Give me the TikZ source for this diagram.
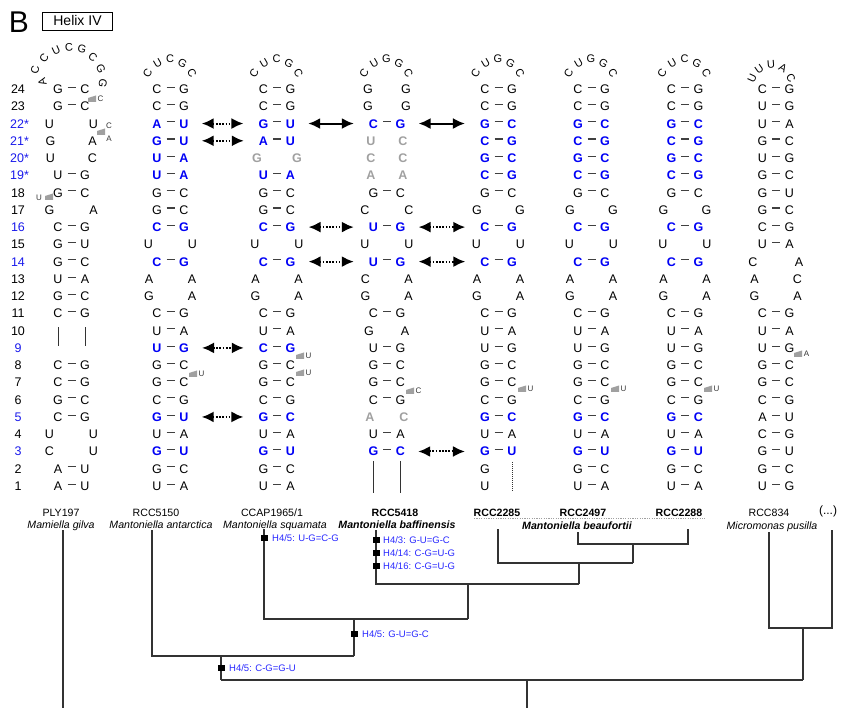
\documentclass[tikz,border=0pt]{standalone}
\usepackage{fontspec}
\setmainfont{Liberation Sans}
\usetikzlibrary{arrows.meta}
\definecolor{bb}{RGB}{0,0,245}
\definecolor{rb}{RGB}{25,25,235}
\definecolor{gr}{RGB}{160,160,160}
\definecolor{tb}{RGB}{40,40,255}
\tikzset{
 b/.style={inner sep=0pt, text height=9pt, text depth=0pt, font=\fontsize{12.5}{14}\selectfont},
 lpb/.style={inner sep=0pt, text height=8pt, text depth=0pt, font=\fontsize{11}{13}\selectfont},
 nb/.style={b},
 bl/.style={b, text=bb, font=\fontsize{12.5}{14}\selectfont\bfseries},
 gy/.style={b, text=gr, font=\fontsize{12.5}{14}\selectfont\bfseries},
 pdash/.style={line width=1.1pt, draw=black!75},
 rl/.style={b},
 rlb/.style={b, text=rb},
 mkl/.style={inner sep=0pt, font=\fontsize{8}{9}\selectfont, text=black!80},
 arr/.style={line width=2pt, {Latex[length=12pt,width=11pt]}-{Latex[length=12pt,width=11pt]}, shorten <=13pt, shorten >=15pt},
 darr/.style={arr, dash pattern=on 1.7pt off 1.5pt},
 tree/.style={line width=1.2pt, draw=black!80},
 mut/.style={anchor=west, inner sep=0pt, text=tb, font=\fontsize{9.5}{11}\selectfont},
 sq/.style={fill=black, inner sep=0pt, minimum width=7pt, minimum height=6pt},
 strain/.style={anchor=base, inner sep=0pt, font=\fontsize{10.6}{12}\selectfont},
 strainb/.style={strain, font=\fontsize{10.6}{12}\selectfont\bfseries},
 spec/.style={anchor=base, inner sep=0pt, font=\fontsize{10.6}{12}\selectfont\itshape},
 specb/.style={spec, font=\fontsize{10.6}{12}\selectfont\bfseries\itshape},
 vline/.style={line width=0.8pt, draw=black!80},
}
\newcommand\RY[1]{\pgfmathsetmacro\yy{486-(#1-1)*17.26}}
\newcommand\PP[6]{%
 \RY{#3}%
 \node[#6] (#1r#3L) at ({#2-13.5},\yy) {#4};
 \node[#6] (#1r#3R) at ({#2+13.5},\yy) {#5};
 \draw[pdash] ([xshift=9.5pt,yshift=1.8pt]#1r#3L.center) -- ([xshift=-9.5pt,yshift=1.8pt]#1r#3R.center);
}
\newcommand\UU[7]{%
 \RY{#3}%
 \node[#6] (#1r#3L) at ({#2-#7},\yy) {#4};
 \node[#6] (#1r#3R) at ({#2+#7},\yy) {#5};
}
\newcommand\LF[7]{%
 \node[lpb,rotate=60] (#1l1) at ({#2-23},73) {#3};
 \node[lpb,rotate=30] (#1l2) at ({#2-13},63) {#4};
 \node[lpb] (#1l3) at ({#2-0.5},58.5) {#5};
 \node[lpb,rotate=-30] (#1l4) at ({#2+12},63) {#6};
 \node[lpb,rotate=-60] (#1l5) at ({#2+21.5},73) {#7};
}
\newcommand\MK[4]{%
 \fill[gr] (#2,{#3-1}) -- ({#2+8},{#3-3.5}) -- ({#2+8},{#3+3}) -- (#2,{#3+3}) -- cycle;
 \node[mkl] (#1) at ({#2+12.5},#3) {#4};
}
\newcommand\RL[3]{\RY{#1}\node[#2] (rl#1) at (18,\yy) {#3};}
\newcommand\RS[2]{\RY{#1}\node[rlb,anchor=west] (rl#1) at (10,\yy) {#2};}
\begin{document}
\begin{tikzpicture}[x=1pt,y=-1pt]
\useasboundingbox (0,0) rectangle (841,708);
% header
\node[inner sep=0pt, font=\fontsize{30}{30}\selectfont] (B) at (19,22) {B};
\node[draw, line width=0.8pt, minimum width=70pt, minimum height=18pt, inner sep=0pt, font=\fontsize{14}{15}\selectfont] (hx) at (77.5,21) {Helix IV};
% row labels
\RL{24}{rl}{24}\RL{23}{rl}{23}
\RS{22}{22*}\RS{21}{21*}\RS{20}{20*}\RS{19}{19*}
\RL{18}{rl}{18}\RL{17}{rl}{17}\RL{16}{rlb}{16}\RL{15}{rl}{15}\RL{14}{rlb}{14}
\RL{13}{rl}{13}\RL{12}{rl}{12}\RL{11}{rl}{11}\RL{10}{rl}{10}\RL{9}{rlb}{9}
\RL{8}{rl}{8}\RL{7}{rl}{7}\RL{6}{rl}{6}\RL{5}{rlb}{5}\RL{4}{rl}{4}\RL{3}{rlb}{3}
\RL{2}{rl}{2}\RL{1}{rl}{1}
% ---------- column 1 : PLY197
\node[lpb,rotate=105] (c1l1) at (42,82) {A};
\node[lpb,rotate=80] (c1l2) at (35,70) {C};
\node[lpb,rotate=55] (c1l3) at (44,58) {C};
\node[lpb,rotate=25] (c1l4) at (56,50) {U};
\node[lpb,rotate=5] (c1l5) at (69,47) {C};
\node[lpb,rotate=-15] (c1l6) at (82,49) {G};
\node[lpb,rotate=-40] (c1l7) at (93,57) {C};
\node[lpb,rotate=-65] (c1l8) at (101,69) {G};
\node[lpb,rotate=-100] (c1l9) at (103,83) {G};
\PP{c1}{71.5}{24}{G}{C}{nb}
\PP{c1}{71.5}{23}{G}{C}{nb}
\UU{c1}{71.5}{22}{U}{U}{nb}{22}
\UU{c1}{71.5}{21}{G}{A}{nb}{21}
\UU{c1}{71.5}{20}{U}{C}{nb}{21}
\PP{c1}{71.5}{19}{U}{G}{nb}
\PP{c1}{71.5}{18}{G}{C}{nb}
\UU{c1}{71.5}{17}{G}{A}{nb}{22}
\PP{c1}{71.5}{16}{C}{G}{nb}
\PP{c1}{71.5}{15}{G}{U}{nb}
\PP{c1}{71.5}{14}{G}{C}{nb}
\PP{c1}{71.5}{13}{U}{A}{nb}
\PP{c1}{71.5}{12}{G}{C}{nb}
\PP{c1}{71.5}{11}{C}{G}{nb}
\PP{c1}{71.5}{8}{C}{G}{nb}
\PP{c1}{71.5}{7}{C}{G}{nb}
\PP{c1}{71.5}{6}{G}{C}{nb}
\PP{c1}{71.5}{5}{C}{G}{nb}
\UU{c1}{71.5}{4}{U}{U}{nb}{22}
\UU{c1}{71.5}{3}{C}{U}{nb}{22}
\PP{c1}{71.5}{2}{A}{U}{nb}
\PP{c1}{71.5}{1}{A}{U}{nb}
\draw[vline, shorten <=9pt, shorten >=14pt] (c1r11L) -- (c1r8L);
\draw[vline, shorten <=9pt, shorten >=14pt] (c1r11R) -- (c1r8R);
\MK{m1a}{88}{99}{C}
\fill[gr] (97,131) -- (105,128.5) -- (105,135) -- (97,135) -- cycle;
\node[mkl] (m1b) at (109,126) {C};
\node[mkl] (m1c) at (109,139) {A};
\fill[gr] (45,196) -- (53,193.5) -- (53,200) -- (45,200) -- cycle;
\node[mkl] (m1d) at (39,198) {U};
% ---------- column 2 : RCC5150
\LF{c2}{170.5}{C}{U}{C}{G}{C}
\PP{c2}{170.5}{24}{C}{G}{nb}
\PP{c2}{170.5}{23}{C}{G}{nb}
\PP{c2}{170.5}{22}{A}{U}{bl}
\PP{c2}{170.5}{21}{G}{U}{bl}
\PP{c2}{170.5}{20}{U}{A}{bl}
\PP{c2}{170.5}{19}{U}{A}{bl}
\PP{c2}{170.5}{18}{G}{C}{nb}
\PP{c2}{170.5}{17}{G}{C}{nb}
\PP{c2}{170.5}{16}{C}{G}{bl}
\UU{c2}{170.5}{15}{U}{U}{nb}{22}
\PP{c2}{170.5}{14}{C}{G}{bl}
\UU{c2}{170.5}{13}{A}{A}{nb}{21.5}
\UU{c2}{170.5}{12}{G}{A}{nb}{21.5}
\PP{c2}{170.5}{11}{C}{G}{nb}
\PP{c2}{170.5}{10}{U}{A}{nb}
\PP{c2}{170.5}{9}{U}{G}{bl}
\PP{c2}{170.5}{8}{G}{C}{nb}
\PP{c2}{170.5}{7}{G}{C}{nb}
\PP{c2}{170.5}{6}{C}{G}{nb}
\PP{c2}{170.5}{5}{G}{U}{bl}
\PP{c2}{170.5}{4}{U}{A}{nb}
\PP{c2}{170.5}{3}{G}{U}{bl}
\PP{c2}{170.5}{2}{G}{C}{nb}
\PP{c2}{170.5}{1}{U}{A}{nb}
\MK{m2a}{189}{374}{U}
% ---------- column 3 : CCAP1965/1
\LF{c3}{277}{C}{U}{C}{G}{C}
\PP{c3}{277}{24}{C}{G}{nb}
\PP{c3}{277}{23}{C}{G}{nb}
\PP{c3}{277}{22}{G}{U}{bl}
\PP{c3}{277}{21}{A}{U}{bl}
\UU{c3}{277}{20}{G}{G}{gy}{20}
\PP{c3}{277}{19}{U}{A}{bl}
\PP{c3}{277}{18}{G}{C}{nb}
\PP{c3}{277}{17}{G}{C}{nb}
\PP{c3}{277}{16}{C}{G}{bl}
\UU{c3}{277}{15}{U}{U}{nb}{22}
\PP{c3}{277}{14}{C}{G}{bl}
\UU{c3}{277}{13}{A}{A}{nb}{21.5}
\UU{c3}{277}{12}{G}{A}{nb}{21.5}
\PP{c3}{277}{11}{C}{G}{nb}
\PP{c3}{277}{10}{U}{A}{nb}
\PP{c3}{277}{9}{C}{G}{bl}
\PP{c3}{277}{8}{G}{C}{nb}
\PP{c3}{277}{7}{G}{C}{nb}
\PP{c3}{277}{6}{C}{G}{nb}
\PP{c3}{277}{5}{G}{C}{bl}
\PP{c3}{277}{4}{U}{A}{nb}
\PP{c3}{277}{3}{G}{U}{bl}
\PP{c3}{277}{2}{G}{C}{nb}
\PP{c3}{277}{1}{U}{A}{nb}
\MK{m3a}{296}{356}{U}
\MK{m3b}{296}{373}{U}
% ---------- column 4 : RCC5418
\LF{c4}{387}{C}{U}{G}{G}{C}
\UU{c4}{387}{24}{G}{G}{nb}{19}
\UU{c4}{387}{23}{G}{G}{nb}{19}
\PP{c4}{387}{22}{C}{G}{bl}
\UU{c4}{387}{21}{U}{C}{gy}{16}
\UU{c4}{387}{20}{C}{C}{gy}{16}
\UU{c4}{387}{19}{A}{A}{gy}{16}
\PP{c4}{387}{18}{G}{C}{nb}
\UU{c4}{387}{17}{C}{C}{nb}{22}
\PP{c4}{387}{16}{U}{G}{bl}
\UU{c4}{387}{15}{U}{U}{nb}{22}
\PP{c4}{387}{14}{U}{G}{bl}
\UU{c4}{387}{13}{C}{A}{nb}{21.5}
\UU{c4}{387}{12}{G}{A}{nb}{21.5}
\PP{c4}{387}{11}{C}{G}{nb}
\UU{c4}{387}{10}{G}{A}{nb}{18}
\PP{c4}{387}{9}{U}{G}{nb}
\PP{c4}{387}{8}{G}{C}{nb}
\PP{c4}{387}{7}{G}{C}{nb}
\PP{c4}{387}{6}{C}{G}{nb}
\UU{c4}{387}{5}{A}{C}{gy}{17}
\PP{c4}{387}{4}{U}{A}{nb}
\PP{c4}{387}{3}{G}{C}{bl}
\draw[vline] (373.5,461) -- (373.5,493);
\draw[vline] (400.5,461) -- (400.5,493);
\MK{m4a}{406}{391}{C}
% ---------- column 5 : RCC2285
\LF{c5}{498.5}{C}{U}{G}{G}{C}
\PP{c5}{498.5}{24}{C}{G}{nb}
\PP{c5}{498.5}{23}{C}{G}{nb}
\PP{c5}{498.5}{22}{G}{C}{bl}
\PP{c5}{498.5}{21}{C}{G}{bl}
\PP{c5}{498.5}{20}{G}{C}{bl}
\PP{c5}{498.5}{19}{C}{G}{bl}
\PP{c5}{498.5}{18}{G}{C}{nb}
\UU{c5}{498.5}{17}{G}{G}{nb}{21.5}
\PP{c5}{498.5}{16}{C}{G}{bl}
\UU{c5}{498.5}{15}{U}{U}{nb}{22}
\PP{c5}{498.5}{14}{C}{G}{bl}
\UU{c5}{498.5}{13}{A}{A}{nb}{21.5}
\UU{c5}{498.5}{12}{G}{A}{nb}{21.5}
\PP{c5}{498.5}{11}{C}{G}{nb}
\PP{c5}{498.5}{10}{U}{A}{nb}
\PP{c5}{498.5}{9}{U}{G}{nb}
\PP{c5}{498.5}{8}{G}{C}{nb}
\PP{c5}{498.5}{7}{G}{C}{nb}
\PP{c5}{498.5}{6}{C}{G}{nb}
\PP{c5}{498.5}{5}{G}{C}{bl}
\PP{c5}{498.5}{4}{U}{A}{nb}
\PP{c5}{498.5}{3}{G}{U}{bl}
\RY{2}\node[nb] (c5r2L) at (485,\yy) {G};
\RY{1}\node[nb] (c5r1L) at (485,\yy) {U};
\draw[line width=0.8pt, draw=black!80, dash pattern=on 1pt off 1pt] (512,462) -- (512,492);
\MK{m5a}{518}{389}{U}
% ---------- column 6 : RCC2497
\LF{c6}{591.5}{C}{U}{G}{G}{C}
\PP{c6}{591.5}{24}{C}{G}{nb}
\PP{c6}{591.5}{23}{C}{G}{nb}
\PP{c6}{591.5}{22}{G}{C}{bl}
\PP{c6}{591.5}{21}{C}{G}{bl}
\PP{c6}{591.5}{20}{G}{C}{bl}
\PP{c6}{591.5}{19}{C}{G}{bl}
\PP{c6}{591.5}{18}{G}{C}{nb}
\UU{c6}{591.5}{17}{G}{G}{nb}{21.5}
\PP{c6}{591.5}{16}{C}{G}{bl}
\UU{c6}{591.5}{15}{U}{U}{nb}{22}
\PP{c6}{591.5}{14}{C}{G}{bl}
\UU{c6}{591.5}{13}{A}{A}{nb}{21.5}
\UU{c6}{591.5}{12}{G}{A}{nb}{21.5}
\PP{c6}{591.5}{11}{C}{G}{nb}
\PP{c6}{591.5}{10}{U}{A}{nb}
\PP{c6}{591.5}{9}{U}{G}{nb}
\PP{c6}{591.5}{8}{G}{C}{nb}
\PP{c6}{591.5}{7}{G}{C}{nb}
\PP{c6}{591.5}{6}{C}{G}{nb}
\PP{c6}{591.5}{5}{G}{C}{bl}
\PP{c6}{591.5}{4}{U}{A}{nb}
\PP{c6}{591.5}{3}{G}{U}{bl}
\PP{c6}{591.5}{2}{G}{C}{nb}
\PP{c6}{591.5}{1}{U}{A}{nb}
\MK{m6a}{611}{389}{U}
% ---------- column 7 : RCC2288
\LF{c7}{685}{C}{U}{C}{G}{C}
\PP{c7}{685}{24}{C}{G}{nb}
\PP{c7}{685}{23}{C}{G}{nb}
\PP{c7}{685}{22}{G}{C}{bl}
\PP{c7}{685}{21}{C}{G}{bl}
\PP{c7}{685}{20}{G}{C}{bl}
\PP{c7}{685}{19}{C}{G}{bl}
\PP{c7}{685}{18}{G}{C}{nb}
\UU{c7}{685}{17}{G}{G}{nb}{21.5}
\PP{c7}{685}{16}{C}{G}{bl}
\UU{c7}{685}{15}{U}{U}{nb}{22}
\PP{c7}{685}{14}{C}{G}{bl}
\UU{c7}{685}{13}{A}{A}{nb}{21.5}
\UU{c7}{685}{12}{G}{A}{nb}{21.5}
\PP{c7}{685}{11}{C}{G}{nb}
\PP{c7}{685}{10}{U}{A}{nb}
\PP{c7}{685}{9}{U}{G}{nb}
\PP{c7}{685}{8}{G}{C}{nb}
\PP{c7}{685}{7}{G}{C}{nb}
\PP{c7}{685}{6}{C}{G}{nb}
\PP{c7}{685}{5}{G}{C}{bl}
\PP{c7}{685}{4}{U}{A}{nb}
\PP{c7}{685}{3}{G}{U}{bl}
\PP{c7}{685}{2}{G}{C}{nb}
\PP{c7}{685}{1}{U}{A}{nb}
\MK{m7a}{704}{389}{U}
% ---------- column 8 : RCC834
\node[lpb,rotate=65] (c8l1) at (752,78) {U};
\node[lpb,rotate=35] (c8l2) at (759,69) {U};
\node[lpb,rotate=5] (c8l3) at (771,64.5) {U};
\node[lpb,rotate=-30] (c8l4) at (783,68) {A};
\node[lpb,rotate=-60] (c8l5) at (791,77.5) {C};
\PP{c8}{776}{24}{C}{G}{nb}
\PP{c8}{776}{23}{U}{G}{nb}
\PP{c8}{776}{22}{U}{A}{nb}
\PP{c8}{776}{21}{G}{C}{nb}
\PP{c8}{776}{20}{U}{G}{nb}
\PP{c8}{776}{19}{G}{C}{nb}
\PP{c8}{776}{18}{G}{U}{nb}
\PP{c8}{776}{17}{G}{C}{nb}
\PP{c8}{776}{16}{C}{G}{nb}
\PP{c8}{776}{15}{U}{A}{nb}
\UU{c8}{776}{14}{C}{A}{nb}{23}
\UU{c8}{776}{13}{A}{C}{nb}{21.5}
\UU{c8}{776}{12}{G}{A}{nb}{21.5}
\PP{c8}{776}{11}{C}{G}{nb}
\PP{c8}{776}{10}{U}{A}{nb}
\PP{c8}{776}{9}{U}{G}{nb}
\PP{c8}{776}{8}{G}{C}{nb}
\PP{c8}{776}{7}{G}{C}{nb}
\PP{c8}{776}{6}{C}{G}{nb}
\PP{c8}{776}{5}{A}{U}{nb}
\PP{c8}{776}{4}{C}{G}{nb}
\PP{c8}{776}{3}{G}{U}{nb}
\PP{c8}{776}{2}{G}{C}{nb}
\PP{c8}{776}{1}{U}{G}{nb}
\MK{m8a}{794}{354}{A}
% ---------- arrows
\draw[darr] (c2r22R) -- (c3r22L);
\draw[darr] (c2r21R) -- (c3r21L);
\draw[arr] (c3r22R) -- (c4r22L);
\draw[arr] (c4r22R) -- (c5r22L);
\draw[darr] (c3r16R) -- (c4r16L);
\draw[darr] (c4r16R) -- (c5r16L);
\draw[darr] (c3r14R) -- (c4r14L);
\draw[darr] (c4r14R) -- (c5r14L);
\draw[darr] (c2r9R) -- (c3r9L);
\draw[darr] (c2r5R) -- (c3r5L);
\draw[darr] (c4r3R) -- (c5r3L);
% ---------- taxon labels
\node[strain] (s1) at (61,516.5) {PLY197};
\node[spec] (t1) at (61,528.5) {Mamiella gilva};
\node[strain] (s2) at (156,516.5) {RCC5150};
\node[spec] (t2) at (161,528.5) {Mantoniella antarctica};
\node[strain] (s3) at (272,516.5) {CCAP1965/1};
\node[spec] (t3) at (275,528.5) {Mantoniella squamata};
\node[strainb] (s4) at (395,516.5) {RCC5418};
\node[specb] (t4) at (397,528.5) {Mantoniella baffinensis};
\node[strainb] (s5) at (497,516.5) {RCC2285};
\node[strainb] (s6) at (583,516.5) {RCC2497};
\node[strainb] (s7) at (679,516.5) {RCC2288};
\draw[line width=0.8pt, draw=gr, dash pattern=on 1.2pt off 1.2pt] (474,518.5) -- (705,518.5);
\node[specb] (t5) at (577,529) {Mantoniella beaufortii};
\node[strain] (s8) at (769,516.5) {RCC834};
\node[spec] (t8) at (772,529) {Micromonas pusilla};
\node[anchor=base, inner sep=0pt, font=\fontsize{12}{13}\selectfont] (s9) at (828,514) {(...)};
% ---------- tree
\coordinate (l1) at (63,530); \coordinate (e1) at (63,708);
\coordinate (l2) at (152,530); \coordinate (l3) at (264,529);
\coordinate (l4) at (376,530); \coordinate (l5) at (498,529);
\coordinate (l6) at (578,532); \coordinate (l7) at (688,529);
\coordinate (l8) at (769,532); \coordinate (l9) at (832,530);
\coordinate (a6) at (578,544); \coordinate (a7) at (688,544);
\coordinate (m67) at (633,544); \coordinate (a5) at (498,563); \coordinate (b67) at (633,563);
\coordinate (m567) at (579,563); \coordinate (a4) at (376,584); \coordinate (b567) at (579,584);
\coordinate (m4) at (468,584); \coordinate (a3) at (264,619); \coordinate (b4) at (468,619);
\coordinate (m3) at (354,619); \coordinate (a2) at (152,656); \coordinate (b3) at (354,656);
\coordinate (m2) at (221,656); \coordinate (r2) at (221,680);
\coordinate (a8) at (769,628); \coordinate (a9) at (832,628);
\coordinate (m89) at (803,628); \coordinate (r89) at (803,680);
\coordinate (rt) at (527,680); \coordinate (rte) at (527,708);
\draw[tree] (l1) -- (e1);
\draw[tree] (l6) -- (a6) -- (a7) -- (l7);
\draw[tree] (m67) -- (b67);
\draw[tree] (l5) -- (a5) -- (b67);
\draw[tree] (m567) -- (b567);
\draw[tree] (l4) -- (a4) -- (b567);
\draw[tree] (m4) -- (b4);
\draw[tree] (l3) -- (a3) -- (b4);
\draw[tree] (m3) -- (b3);
\draw[tree] (l2) -- (a2) -- (b3);
\draw[tree] (m2) -- (r2);
\draw[tree] (l8) -- (a8) -- (a9) -- (l9);
\draw[tree] (m89) -- (r89);
\draw[tree] (r2) -- (r89);
\draw[tree] (rt) -- (rte);
% mutation marks
\node[sq] (q1) at (264,538) {}; \node[mut] (u1) at (272,538) {H4/5: U-G=C-G};
\node[sq] (q2) at (376,540) {}; \node[mut] (u2) at (383,540) {H4/3: G-U=G-C};
\node[sq] (q3) at (376,553) {}; \node[mut] (u3) at (383,553) {H4/14: C-G=U-G};
\node[sq] (q4) at (376,566) {}; \node[mut] (u4) at (383,566) {H4/16: C-G=U-G};
\node[sq] (q5) at (354,634) {}; \node[mut] (u5) at (362,634) {H4/5: G-U=G-C};
\node[sq] (q6) at (221,668) {}; \node[mut] (u6) at (229,668) {H4/5: C-G=G-U};
\end{tikzpicture}
\end{document}
